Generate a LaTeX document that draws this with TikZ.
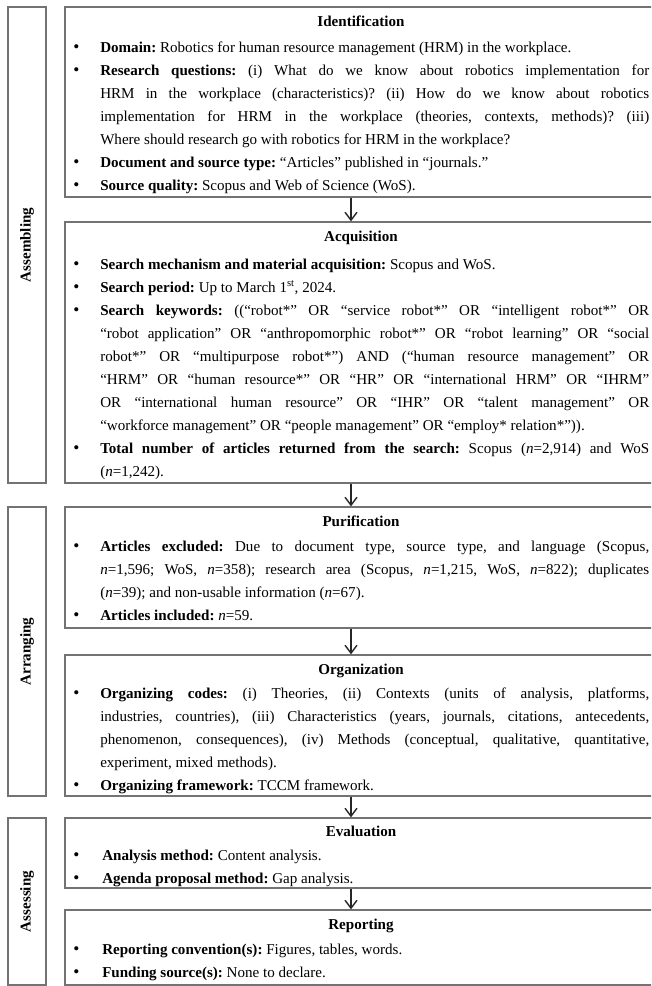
\documentclass[tikz,border=0pt]{standalone}
\usepackage{fontspec}
\setmainfont{Liberation Serif}
\usetikzlibrary{arrows.meta,fit}
\newcommand\bigbullet{\raisebox{-0.2pt}{\fontsize{13}{13}\selectfont\textbullet}}
\newcommand\bul[1]{\noindent\hangindent=19.5pt\hangafter=1\makebox[19.5pt][l]{\hspace{-0.6pt}\bigbullet}#1\par}
\newcommand\bulx[1]{\noindent\hangindent=21pt\hangafter=1\makebox[21pt][l]{\hspace{-0.6pt}\bigbullet}#1\par}
\begin{document}
\begin{tikzpicture}[x=0.75pt,y=-0.75pt,
  frame/.style={draw=black!55, line width=0.9pt, inner sep=0pt},
  head/.style={anchor=base, inner sep=0pt, font=\bfseries\fontsize{11.3}{17.25}\selectfont},
  items/.style={anchor=base west, inner sep=0pt, text width=431.25pt, align=justify,
    font=\fontsize{11.3}{17.25}\selectfont,
    execute at begin node={\frenchspacing\parindent=0pt\hyphenpenalty=10000\exhyphenpenalty=10000\tolerance=9999\relax}},
  stagelabel/.style={rotate=90, inner sep=0pt, font=\bfseries\fontsize{11.3}{13}\selectfont},
  flow/.style={-{Straight Barb[length=6pt,width=9pt,line width=1.05pt]}, line width=1.05pt, black!85}
]
\useasboundingbox (0,0) rectangle (651,986);
\clip (0,0) rectangle (651,986);
\coordinate (ax) at (351,0);

% stage columns
\node[frame, fit={(8,7)(46,483)}] (assem) {};
\node[frame, fit={(8,507)(46,796)}] (arran) {};
\node[frame, fit={(8,818)(46,985)}] (assess) {};
\node[stagelabel] (assemL) at (assem.center) {Assembling};
\node[stagelabel] (arranL) at (arran.center) {Arranging};
\node[stagelabel] (assessL) at (assess.center) {Assessing};

% main boxes
\node[frame, fit={(65,7)(660,197)}] (ident) {};
\node[frame, fit={(65,222)(660,483)}] (acq) {};
\node[frame, fit={(65,507)(660,628)}] (pur) {};
\node[frame, fit={(65,655)(660,796)}] (org) {};
\node[frame, fit={(65,818)(660,888)}] (eval) {};
\node[frame, fit={(65,910)(660,985)}] (rep) {};

% Identification
\node[head] (identH) at (361,26) {Identification};
\node[items] (identT) at (74,52) {%
\bul{\textbf{Domain:} Robotics for human resource management (HRM) in the workplace.}%
\bul{\textbf{Research questions:} (i) What do we know about robotics implementation for\linebreak
HRM in the workplace (characteristics)? (ii) How do we know about robotics\linebreak
implementation for HRM in the workplace (theories, contexts, methods)? (iii)\linebreak
Where should research go with robotics for HRM in the workplace?}%
\bul{\textbf{Document and source type:} “Articles” published in “journals.”}%
\bul{\textbf{Source quality:} Scopus and Web of Science (WoS).}};

% Acquisition
\node[head] (acqH) at (361,241) {Acquisition};
\node[items] (acqT) at (74,269) {%
\bul{\textbf{Search mechanism and material acquisition:} Scopus and WoS.}%
\bul{\textbf{Search period:} Up to March 1\textsuperscript{st}, 2024.}%
\bul{\textbf{Search keywords:} ((“robot*” OR “service robot*” OR “intelligent robot*” OR\linebreak
“robot application” OR “anthropomorphic robot*” OR “robot learning” OR “social\linebreak
robot*” OR “multipurpose robot*”) AND (“human resource management” OR\linebreak
“HRM” OR “human resource*” OR “HR” OR “international HRM” OR “IHRM”\linebreak
OR “international human resource” OR “IHR” OR “talent management” OR\linebreak
“workforce management” OR “people management” OR “employ* relation*”)).}%
\bul{\textbf{Total number of articles returned from the search:} Scopus (\textit{n}=2,914) and WoS\linebreak
(\textit{n}=1,242).}};

% Purification
\node[head] (purH) at (361,526) {Purification};
\node[items] (purT) at (74,551) {%
\bul{\textbf{Articles excluded:} Due to document type, source type, and language (Scopus,\linebreak
\textit{n}=1,596; WoS, \textit{n}=358); research area (Scopus, \textit{n}=1,215, WoS, \textit{n}=822); duplicates\linebreak
(\textit{n}=39); and non-usable information (\textit{n}=67).}%
\bul{\textbf{Articles included:} \textit{n}=59.}};

% Organization
\node[head] (orgH) at (361,674) {Organization};
\node[items] (orgT) at (74,698) {%
\bul{\textbf{Organizing codes:} (i) Theories, (ii) Contexts (units of analysis, platforms,\linebreak
industries, countries), (iii) Characteristics (years, journals, citations, antecedents,\linebreak
phenomenon, consequences), (iv) Methods (conceptual, qualitative, quantitative,\linebreak
experiment, mixed methods).}%
\bul{\textbf{Organizing framework:} TCCM framework.}};

% Evaluation
\node[head] (evalH) at (361,836) {Evaluation};
\node[items] (evalT) at (74,860) {%
\bulx{\textbf{Analysis method:} Content analysis.}%
\bulx{\textbf{Agenda proposal method:} Gap analysis.}};

% Reporting
\node[head] (repH) at (361,929) {Reporting};
\node[items] (repT) at (74,954) {%
\bulx{\textbf{Reporting convention(s):} Figures, tables, words.}%
\bulx{\textbf{Funding source(s):} None to declare.}};

% connectors
\draw[flow] (ident.south -| ax) -- (acq.north -| ax);
\draw[flow] (acq.south -| ax) -- (pur.north -| ax);
\draw[flow] (pur.south -| ax) -- (org.north -| ax);
\draw[flow] (org.south -| ax) -- (eval.north -| ax);
\draw[flow] (eval.south -| ax) -- (rep.north -| ax);
\end{tikzpicture}
\end{document}
